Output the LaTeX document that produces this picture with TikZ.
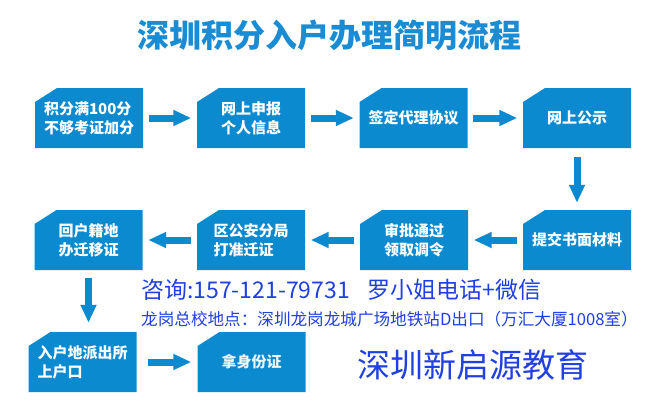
\documentclass[tikz,border=0pt]{standalone}
\usepackage{fontspec}
\newfontfamily\cjk{Noto Sans CJK SC}
\usetikzlibrary{arrows.meta}
\definecolor{boxblue}{RGB}{12,138,208}
\definecolor{titleblue}{RGB}{26,140,212}
\definecolor{infoblue}{RGB}{32,64,226}
\tikzset{
  stepbox/.style={minimum width=108pt, minimum height=60pt, inner sep=0pt,
    text=white, align=left,
    font={\cjk\bfseries\fontsize{15}{19}\selectfont},
    path picture={\fill[boxblue]
      (path picture bounding box.south west)
      -- ([yshift=-14pt]path picture bounding box.north west)
      -- ([xshift=22pt]path picture bounding box.north west)
      -- (path picture bounding box.north east)
      -- (path picture bounding box.south east) -- cycle;}},
  flowarrow/.style={draw=boxblue, line width=7pt,
    -{Triangle[length=18pt,width=15pt]}, shorten <=5.5pt, shorten >=5.5pt}
}
\begin{document}
\begin{tikzpicture}[x=1pt,y=-1pt]
\useasboundingbox[fill=white] (0,0) rectangle (653,408);
\node[font={\cjk\bfseries\fontsize{32}{36}\selectfont}, text=titleblue] (title) at (329,35) {深圳积分入户办理简明流程};

\node[stepbox] (a1) at (89,118) {积分满100分\\不够考证加分};
\node[stepbox] (a2) at (251,118) {网上申报\\个人信息};
\node[stepbox] (a3) at (413.5,118) {签定代理协议};
\node[stepbox] (a4) at (577,118) {网上公示};

\node[stepbox] (b1) at (88.5,240) {回户籍地\\办迁移证};
\node[stepbox] (b2) at (251,240) {区公安分局\\打准迁证};
\node[stepbox] (b3) at (414,240) {审批通过\\领取调令};
\node[stepbox] (b4) at (577,240) {提交书面材料};

\node[stepbox] (c1) at (82.5,362) {入户地派出所\\上户口};
\node[stepbox, text=white!92!boxblue] (c2) at (251.5,362) {拿身份证};

\draw[flowarrow] (a1) -- (a2);
\draw[flowarrow] (a2) -- (a3);
\draw[flowarrow] (a3) -- (a4);
\draw[flowarrow, shorten <=9pt, shorten >=7pt] (a4) -- (b4);
\draw[flowarrow] (b4) -- (b3);
\draw[flowarrow] (b3) -- (b2);
\draw[flowarrow] (b2) -- (b1);
\draw[flowarrow, shorten <=8pt, shorten >=9pt] (b1.south) -- (b1.south |- c1.north);
\draw[flowarrow, shorten <=11pt, shorten >=6pt] (c1) -- (c2);

\node[anchor=west, inner sep=0pt, text=infoblue, font={\cjk\fontsize{23}{26}\selectfont}] (tel) at (141,290) {咨询:157-121-79731\hspace{18pt}罗小姐电话+微信};
\node[anchor=west, inner sep=0pt, text=infoblue, font={\cjk\fontsize{16.6}{19}\selectfont}] (addr) at (141,319) {龙岗总校地点：深圳龙岗龙城广场地铁站D出口（万汇大厦1008室）};
\node[text=infoblue, font={\cjk\fontsize{33}{38}\selectfont}] (brand) at (473,365) {深圳新启源教育};
\end{tikzpicture}
\end{document}
